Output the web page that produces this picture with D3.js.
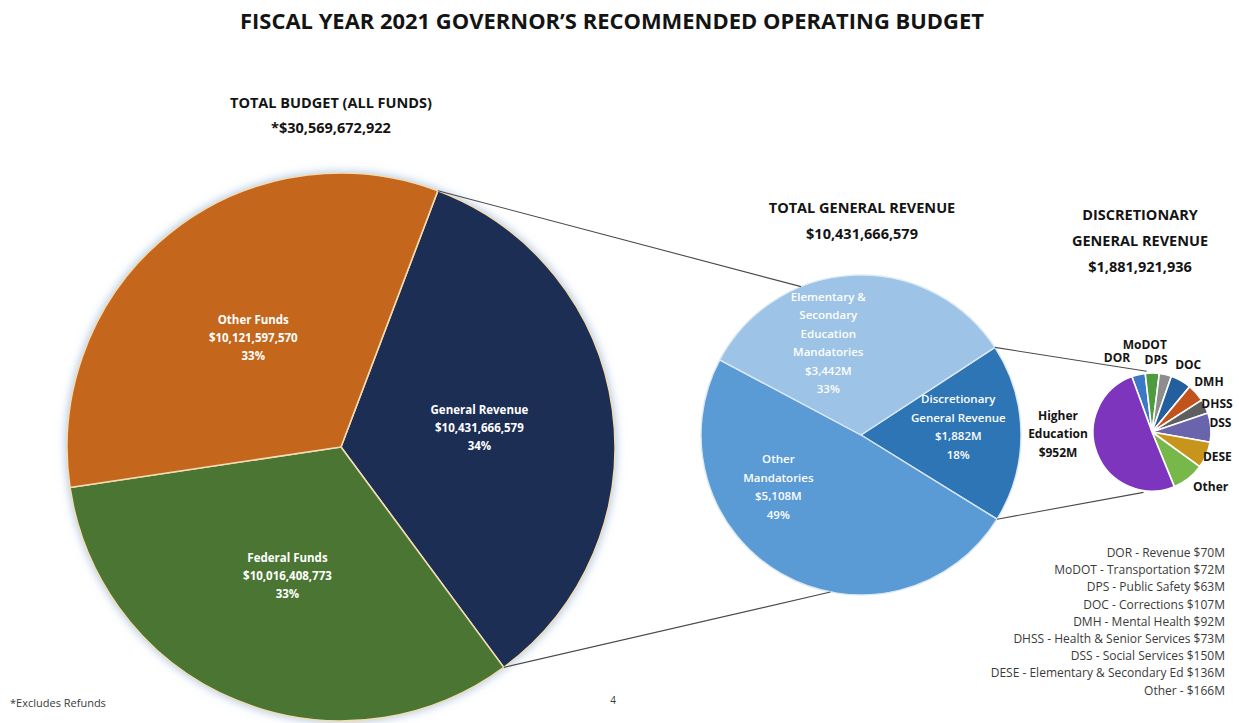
<!DOCTYPE html>
<html>
<head>
<meta charset="utf-8">
<script src="https://cdn.jsdelivr.net/npm/d3@7"></script>
<style>
  html, body { margin: 0; padding: 0; background: #fff; }
  svg { display: block; font-family: 'Open Sans', 'Noto Sans', sans-serif; }
</style>
</head>
<body>
<div id="chart"></div>
<script>
// ── Data ──────────────────────────────────────────────────────────────────
const TITLE = 'FISCAL YEAR 2021 GOVERNOR\u2019S RECOMMENDED OPERATING BUDGET';

// total budget, all funds (dollars)
const fundNames  = ['General Revenue', 'Federal Funds', 'Other Funds'];
const fundValues = [10431666579, 10016408773, 10121597570];

// general revenue split ($M)
const grParts  = ['Discretionary General Revenue', 'Other Mandatories',
                  'Elementary & Secondary Education Mandatories'];
const grLines  = [['Discretionary', 'General Revenue'], ['Other', 'Mandatories'],
                  ['Elementary &', 'Secondary', 'Education', 'Mandatories']];
const grValues = [1882, 5108, 3442];

// discretionary general revenue by department ($M)
const deptCodes  = ['DOR', 'MoDOT', 'DPS', 'DOC', 'DMH', 'DHSS', 'DSS', 'DESE', 'Other', 'Higher Education'];
const deptNames  = ['Revenue', 'Transportation', 'Public Safety', 'Corrections', 'Mental Health',
                    'Health & Senior Services', 'Social Services', 'Elementary & Secondary Ed', '', 'Higher Education'];
const deptValues = [70, 72, 63, 107, 92, 73, 150, 136, 166, 952];
const discretionaryTotal = 1881921936;

// ── Styling ───────────────────────────────────────────────────────────────
const FUND_COLORS = ['#1b2d53', '#4b7430', '#c4661f'];
const GR_COLORS   = ['#2e75b6', '#5b9bd5', '#9dc3e6'];
const DEPT_COLORS = ['#3b78c6', '#4e9a3e', '#8d8d8d', '#235f9e', '#c2531c',
                     '#5f5f5f', '#6a64ad', '#c8951c', '#78b84a', '#7d35bd'];

const W = 1239, H = 723;
const rad = deg => deg * Math.PI / 180;
const pt = (cx, cy, r, a) => [cx + r * Math.sin(a), cy - r * Math.cos(a)];
const money = d3.format(',');

const svg = d3.select('#chart').append('svg')
  .attr('width', W).attr('height', H)
  .attr('viewBox', `0 0 ${W} ${H}`);

const defs = svg.append('defs');
defs.append('filter').attr('id', 'glow')
  .attr('x', '-10%').attr('y', '-10%').attr('width', '120%').attr('height', '120%')
  .append('feDropShadow')
  .attr('dx', 0).attr('dy', 0).attr('stdDeviation', 5)
  .attr('flood-color', '#8fb0d6').attr('flood-opacity', 0.8);

// ── Generic pie ───────────────────────────────────────────────────────────
function drawPie({ cx, cy, r, values, colors, startDeg, stroke, strokeWidth, filter }) {
  const arcs = d3.pie().sort(null)
    .startAngle(rad(startDeg)).endAngle(rad(startDeg + 360))(values);
  const arc = d3.arc().innerRadius(0).outerRadius(r);
  const g = svg.append('g').attr('transform', `translate(${cx},${cy})`);
  g.append('g').attr('filter', filter || null)
    .selectAll('path').data(arcs).join('path')
    .attr('d', arc)
    .attr('fill', (d, i) => colors[i])
    .attr('stroke', stroke)
    .attr('stroke-width', strokeWidth)
    .attr('stroke-linejoin', 'round');
  return { arcs, g };
}

function multiLine(g, x, y, lines, lh, opts) {
  const t = g.append('text')
    .attr('text-anchor', 'middle')
    .attr('fill', opts.fill).attr('font-size', opts.size).attr('font-weight', opts.weight);
  const top = y - (lines.length - 1) * lh / 2;
  lines.forEach((s, i) => t.append('tspan')
    .attr('x', x).attr('y', top + i * lh).attr('dy', '0.35em').text(s));
  return t;
}

// ── Title & headings ──────────────────────────────────────────────────────
svg.append('text')
  .attr('x', 612).attr('y', 29).attr('text-anchor', 'middle')
  .attr('font-size', 20.5).attr('font-weight', 700).attr('fill', '#141414')
  .attr('textLength', 744).attr('lengthAdjust', 'spacingAndGlyphs')
  .text(TITLE);

function heading(x, y, lines, lh) {
  const t = svg.append('text').attr('text-anchor', 'middle')
    .attr('font-size', 14.5).attr('font-weight', 700).attr('fill', '#141414');
  lines.forEach((s, i) => t.append('tspan').attr('x', x).attr('y', y + i * lh).text(s));
}

const fundTotal = d3.sum(fundValues);
heading(331, 108, ['TOTAL BUDGET (ALL FUNDS)', '*$' + money(fundTotal)], 25);
heading(862, 213, ['TOTAL GENERAL REVENUE', '$' + money(fundValues[0])], 26);
heading(1140, 220, ['DISCRETIONARY', 'GENERAL REVENUE', '$' + money(discretionaryTotal)], 26);

// ── Big pie: all funds ────────────────────────────────────────────────────
const big = { cx: 341, cy: 447, r: 274 };
const bigPie = drawPie({ ...big, values: fundValues, colors: FUND_COLORS, startDeg: 20.7,
  stroke: '#f1dcb4', strokeWidth: 1.6, filter: 'url(#glow)' });
const bigLabelArc = d3.arc().innerRadius(0).outerRadius(big.r * 1.02);
bigPie.arcs.forEach((d, i) => {
  const [x, y] = bigLabelArc.centroid(d);
  multiLine(bigPie.g, x, y,
    [fundNames[i], '$' + money(fundValues[i]), Math.round(fundValues[i] / fundTotal * 100) + '%'],
    18, { fill: '#fff', size: 11.5, weight: 700 });
});

// ── Middle pie: general revenue ──────────────────────────────────────────
const mid = { cx: 861, cy: 435, r: 160 };
const midPie = drawPie({ ...mid, values: grValues, colors: GR_COLORS, startDeg: 56.8,
  stroke: '#dce9f6', strokeWidth: 1.4 });
const grTotal = d3.sum(grValues);
const midNudge = [-4, 28, -17];       // label angle tweaks (deg)
midPie.arcs.forEach((d, i) => {
  const a = (d.startAngle + d.endAngle) / 2 + rad(midNudge[i]);
  const [x, y] = pt(0, 0, mid.r * 0.61, a);
  multiLine(midPie.g, x, y,
    [...grLines[i], '$' + money(grValues[i]) + 'M', Math.round(grValues[i] / grTotal * 100) + '%'],
    18.5, { fill: '#fff', size: 11.5, weight: 600 });
});

// ── Small pie: discretionary GR by department ────────────────────────────
const small = { cx: 1152, cy: 432, r: 59 };
const smallPie = drawPie({ ...small, values: deptValues, colors: DEPT_COLORS, startDeg: -20,
  stroke: '#fff', strokeWidth: 1.6 });
// label placement tweaks: [angle offset deg, radius]
const smallNudge = [[-12, 82], [-5, 88], [-10, 72], [-1, 76], [0, 76],
                    [2, 71], [-3, 69], [-2, 70], [-9, 80], [20, 94]];
smallPie.arcs.forEach((d, i) => {
  const a = (d.startAngle + d.endAngle) / 2 + rad(smallNudge[i][0]);
  const [x, y] = pt(0, 0, smallNudge[i][1], a);
  const lines = i === deptCodes.length - 1
    ? ['Higher', 'Education', '$' + deptValues[i] + 'M']
    : [deptCodes[i]];
  multiLine(smallPie.g, x, y, lines, 18.5, { fill: '#141414', size: 12, weight: 700 });
});

// ── Connector lines ───────────────────────────────────────────────────────
const gr = bigPie.arcs[0];
const disc = midPie.arcs[0];
const connectors = [
  [pt(big.cx, big.cy, big.r, gr.startAngle), pt(mid.cx, mid.cy, mid.r, rad(338))],
  [pt(big.cx, big.cy, big.r, gr.endAngle),   pt(mid.cx, mid.cy, mid.r, rad(191))],
  [pt(mid.cx, mid.cy, mid.r, disc.startAngle), pt(small.cx, small.cy, small.r + 2, rad(-5))],
  [pt(mid.cx, mid.cy, mid.r, disc.endAngle),   pt(small.cx, small.cy, small.r + 2, rad(188))],
];
svg.append('g').selectAll('line').data(connectors).join('line')
  .attr('x1', d => d[0][0]).attr('y1', d => d[0][1])
  .attr('x2', d => d[1][0]).attr('y2', d => d[1][1])
  .attr('stroke', '#4a4a4a').attr('stroke-width', 1.1);

// ── Department legend ─────────────────────────────────────────────────────
const legendRows = deptCodes.slice(0, -1).map((c, i) =>
  c + ' - ' + (deptNames[i] ? deptNames[i] + ' ' : '') + '$' + deptValues[i] + 'M');
svg.append('g').selectAll('text').data(legendRows).join('text')
  .attr('x', 1225).attr('y', (d, i) => 557 + i * 17.2)
  .attr('text-anchor', 'end').attr('font-size', 12).attr('fill', '#3a3a3a')
  .text(d => d);

// ── Footer ────────────────────────────────────────────────────────────────
svg.append('text').attr('x', 10).attr('y', 707)
  .attr('font-size', 11).attr('fill', '#3a3a3a').text('*Excludes Refunds');
svg.append('text').attr('x', 613).attr('y', 704).attr('text-anchor', 'middle')
  .attr('font-size', 10).attr('fill', '#3a3a3a').text('4');
</script>
</body>
</html>
